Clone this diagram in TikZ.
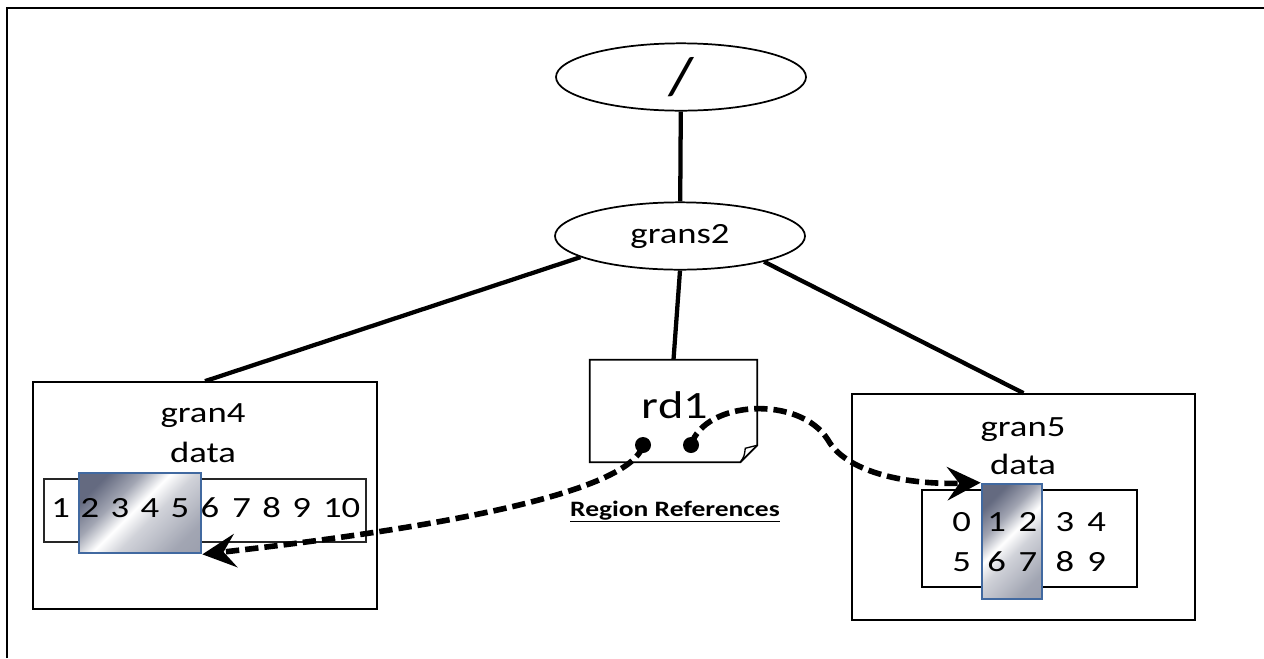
\documentclass[tikz,border=0pt]{standalone}
\usepackage{fontspec}
\setmainfont{Carlito}[FakeStretch=1.25]
\usetikzlibrary{shapes.geometric,arrows.meta,calc}
\definecolor{mdark}{RGB}{100,106,128}
\definecolor{hlblue}{RGB}{65,105,160}
\pgfdeclarehorizontalshading{metal}{100bp}{color(0bp)=(mdark);color(25bp)=(mdark);color(37bp)=(mdark!60!white);color(47bp)=(white);color(56bp)=(mdark!30!white);color(66bp)=(mdark!45!white);color(75bp)=(mdark!60!white);color(100bp)=(mdark!70!white)}
\tikzset{
  treenode/.style={ellipse, draw, line width=1.3pt, minimum width=187.5pt, minimum height=50.5pt, inner sep=0pt},
  granbox/.style={draw, line width=1.3pt, inner sep=0pt},
  arraybox/.style={draw, line width=1.6pt, inner sep=0pt},
  hilite/.style={draw=hlblue, line width=2pt, shading=metal, shading angle=-45, inner sep=0pt},
  lbl/.style={font=\fontsize{22}{26}\selectfont, anchor=base, inner sep=0pt},
  conn/.style={line width=3.2pt},
  refline/.style={line width=4.2pt, dash pattern=on 10pt off 4.5pt, -{Stealth[length=25pt,width=25pt,inset=9pt]}},
  refdot/.style={circle, fill, inner sep=0pt, minimum size=12pt},
}
\begin{document}
\begin{tikzpicture}[x=0.75pt,y=-0.75pt]
\useasboundingbox (0,0) rectangle (1264,658);

% frame edges
\draw[line width=1.6pt] (7,658) -- (7,8) -- (1264,8);

% tree nodes
\node[treenode] (root) at (681,77) {\fontsize{40}{44}\selectfont /};
\node[treenode] (grans2) at (680,236) {\fontsize{22}{26}\selectfont grans2};

% granule boxes and region descriptor
\node[granbox, minimum width=258pt, minimum height=170.25pt] (gran4) at (205,495.5) {};
\node[granbox, minimum width=257.25pt, minimum height=169.5pt] (gran5) at (1023.5,507) {};
\node[inner sep=0pt, minimum width=125.25pt, minimum height=76.5pt] (rd1) at (673.5,411) {};
\draw[line width=1.3pt] (rd1.north west) -- (rd1.north east)
  -- ($(rd1.south east)+(0,-17)$) -- ($(rd1.south east)+(-17,0)$)
  -- (rd1.south west) -- cycle;
\draw[line width=1pt] ($(rd1.south east)+(-17,0)$) .. controls ($(rd1.south east)+(-13,-6)$) .. ($(rd1.south east)+(-12,-14)$)
  -- ($(rd1.south east)+(0,-17)$);
\node[font=\fontsize{29}{34}\selectfont, anchor=base, inner sep=0pt] (rd1lbl) at (675,418) {rd1};

% tree connectors
\draw[conn] (root) -- (grans2);
\draw[conn] (grans2.192) -- (gran4.north);
\draw[conn] (grans2.south) -- (rd1.north);
\draw[conn] (grans2.343) -- (gran5.north);

% gran4 contents
\node[lbl] (g4name) at (203,422) {gran4};
\node[lbl] (g4data) at (203,462) {data};
\node[arraybox, draw=black!85, minimum width=241.5pt, minimum height=47.25pt] (arr4) at (205,510.5) {};
\node[hilite, minimum width=91.5pt, minimum height=60pt] (hl4) at (140,513) {};
\foreach \v/\x in {1/60.7,2/90,3/120,4/150,5/180,6/210,7/241.7,8/271.7,9/301.7,10/341.7}
  \node[lbl] (a4-\v) at (\x,517) {\v};

% gran5 contents
\node[lbl] (g5name) at (1023,436) {gran5};
\node[lbl] (g5data) at (1023,474) {data};
\node[arraybox, minimum width=161.25pt, minimum height=72.75pt] (arr5) at (1029.5,538.5) {};
\node[hilite, minimum width=45pt, minimum height=86.25pt] (hl5) at (1012,541.5) {};
\foreach \v/\x in {0/961.7,1/996.7,2/1028,3/1065,4/1096.7}
  \node[lbl] (a5-\v) at (\x,531) {\v};
\foreach \v/\x in {5/961.7,6/996.7,7/1028,8/1065,9/1096.7}
  \node[lbl] (a5-\v) at (\x,571) {\v};

% region references
\node[font=\fontsize{16.5}{20}\selectfont\bfseries, anchor=base, inner sep=0pt] (reflbl) at (675,516) {\underline{Region References}};
\node[refdot] (d1) at (643,445) {};
\node[refdot] (d2) at (691,445) {};
\draw[refline] (d1.center) .. controls (630,495) and (420,530) .. (hl4.south east);
\draw[refline] (d2.center) .. controls (705,400) and (800,395) .. (828,440)
  .. controls (845,470) and (900,485) .. (hl5.north west);
\end{tikzpicture}
\end{document}
